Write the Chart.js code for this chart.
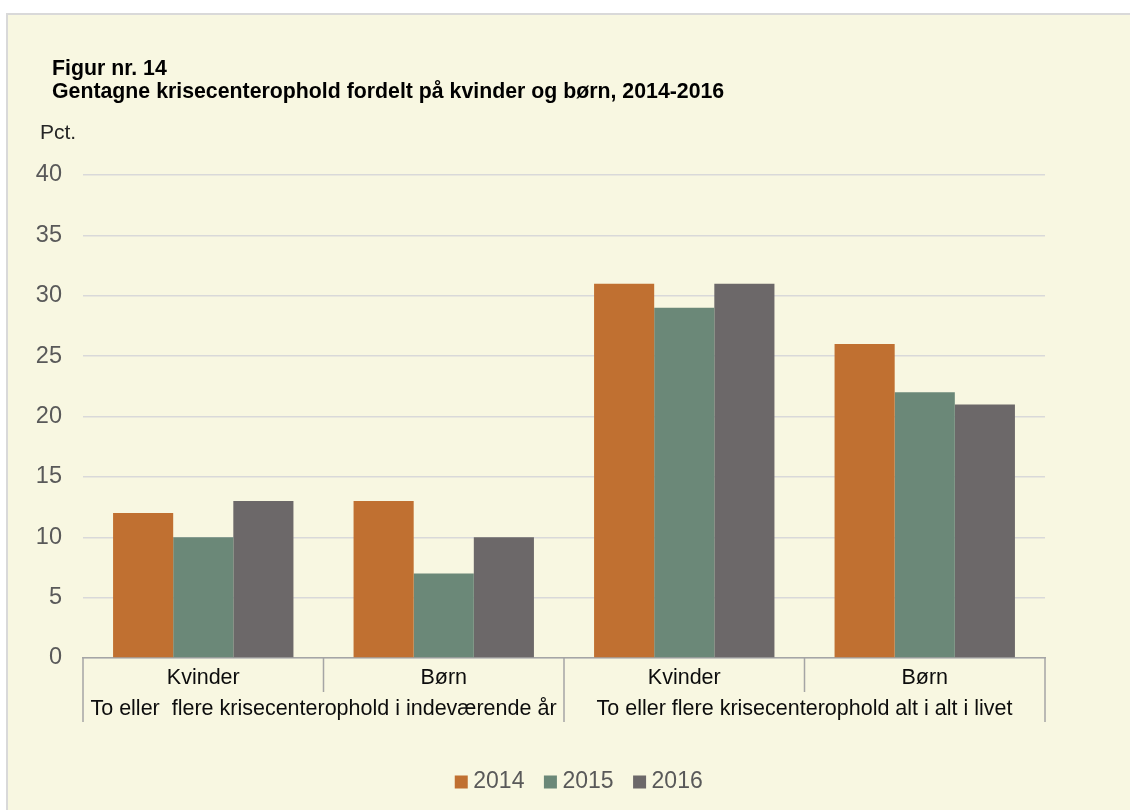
<!DOCTYPE html>
<html>
<head>
<meta charset="utf-8">
<script src="https://cdn.jsdelivr.net/npm/chart.js@4"></script>
<style>
  html, body { margin: 0; padding: 0; background: #ffffff; }
  canvas { display: block; }
</style>
</head>
<body>
<canvas id="c" width="1130" height="810"></canvas>
<script>
const categories = ['Kvinder', 'Børn', 'Kvinder', 'Børn'];
const groupLabels = ['To eller  flere krisecenterophold i indeværende år', 'To eller flere krisecenterophold alt i alt i livet'];
const seriesNames = ['2014', '2015', '2016'];
const values2014 = [12, 13, 31, 26];
const values2015 = [10, 7, 29, 22];
const values2016 = [13, 10, 31, 21];
const yTicks = { min: 0, max: 40, step: 5 };
const titleLines = ['Figur nr. 14', 'Gentagne krisecenterophold fordelt på kvinder og børn, 2014-2016'];
const unitLabel = 'Pct.';

const colors = ['#C07031', '#6B8878', '#6C6869'];
const FONT = '"Liberation Sans", Arial, sans-serif';

const decor = {
  id: 'decor',
  beforeDraw(chart) {
    const ctx = chart.ctx;
    ctx.save();
    ctx.fillStyle = '#ffffff';
    ctx.fillRect(0, 0, chart.width, chart.height);
    ctx.fillStyle = '#F8F7E1';
    ctx.fillRect(7, 14, chart.width - 7, chart.height - 14);
    ctx.strokeStyle = '#D9D9D9';
    ctx.lineWidth = 2;
    ctx.beginPath();
    ctx.moveTo(7, chart.height);
    ctx.lineTo(7, 14);
    ctx.lineTo(chart.width, 14);
    ctx.stroke();
    // titles
    ctx.fillStyle = '#000000';
    ctx.textAlign = 'left';
    ctx.textBaseline = 'alphabetic';
    ctx.font = 'bold 21.3px ' + FONT;
    ctx.fillText(titleLines[0], 52, 75);
    ctx.fillText(titleLines[1], 52, 98);
    ctx.font = '21px ' + FONT;
    ctx.fillStyle = '#262626';
    ctx.fillText(unitLabel, 40, 139);
    ctx.restore();
  },
  afterDraw(chart) {
    const ctx = chart.ctx;
    const xs = chart.scales.x;
    const area = chart.chartArea;
    const n = categories.length;
    const step = xs.getPixelForValue(1) - xs.getPixelForValue(0);
    const bounds = [];
    for (let i = 0; i <= n; i++) bounds.push(xs.getPixelForValue(0) - step / 2 + i * step);
    ctx.save();
    ctx.strokeStyle = '#A5A5A5';
    ctx.lineWidth = 1.5;
    ctx.beginPath();
    bounds.forEach((bx, i) => {
      const outer = (i % 2 === 0);
      ctx.moveTo(bx, area.bottom);
      ctx.lineTo(bx, area.bottom + (outer ? 64 : 34));
    });
    ctx.stroke();
    ctx.fillStyle = '#0D0D0D';
    ctx.font = '21.5px ' + FONT;
    ctx.textAlign = 'center';
    ctx.textBaseline = 'middle';
    categories.forEach((c, i) => {
      ctx.fillText(c, xs.getPixelForValue(i), area.bottom + 20);
    });
    groupLabels.forEach((g, j) => {
      const cx = (bounds[2 * j] + bounds[2 * j + 2]) / 2;
      ctx.fillText(g, cx, area.bottom + 51);
    });
    ctx.restore();
  }
};

new Chart(document.getElementById('c'), {
  type: 'bar',
  data: {
    labels: categories,
    datasets: [
      { label: seriesNames[0], data: values2014, backgroundColor: colors[0], borderWidth: 0 },
      { label: seriesNames[1], data: values2015, backgroundColor: colors[1], borderWidth: 0 },
      { label: seriesNames[2], data: values2016, backgroundColor: colors[2], borderWidth: 0 }
    ]
  },
  options: {
    responsive: false,
    animation: false,
    devicePixelRatio: 1,
    categoryPercentage: 0.75,
    barPercentage: 1.0,
    layout: { padding: { left: 33.5, right: 0, top: 175, bottom: 6.5 } },
    plugins: {
      title: { display: false },
      tooltip: { enabled: false },
      legend: {
        position: 'bottom',
        labels: {
          usePointStyle: true,
          pointStyle: 'rect',
          boxWidth: 1,
          boxHeight: 13,
          padding: 25.5,
          color: '#595959',
          font: { family: FONT, size: 23 }
        }
      }
    },
    scales: {
      x: {
        grid: { display: false, drawTicks: false },
        ticks: { display: false },
        border: { display: true, color: '#A5A5A5', width: 1.5 },
        afterFit(s) { s.height = 87; }
      },
      y: {
        min: yTicks.min,
        max: yTicks.max,
        ticks: { stepSize: yTicks.step, padding: 21, color: '#595959', font: { family: FONT, size: 23.5 } },
        grid: { color: '#D9D9D9', lineWidth: 1.5, drawTicks: false },
        border: { display: false },
        afterFit(s) { s.width = 49.5; }
      },
      y2: {
        position: 'right',
        display: true,
        grid: { display: false, drawTicks: false },
        ticks: { display: false },
        border: { display: false },
        afterFit(s) { s.width = 85; }
      }
    }
  },
  plugins: [decor]
});
</script>
</body>
</html>
